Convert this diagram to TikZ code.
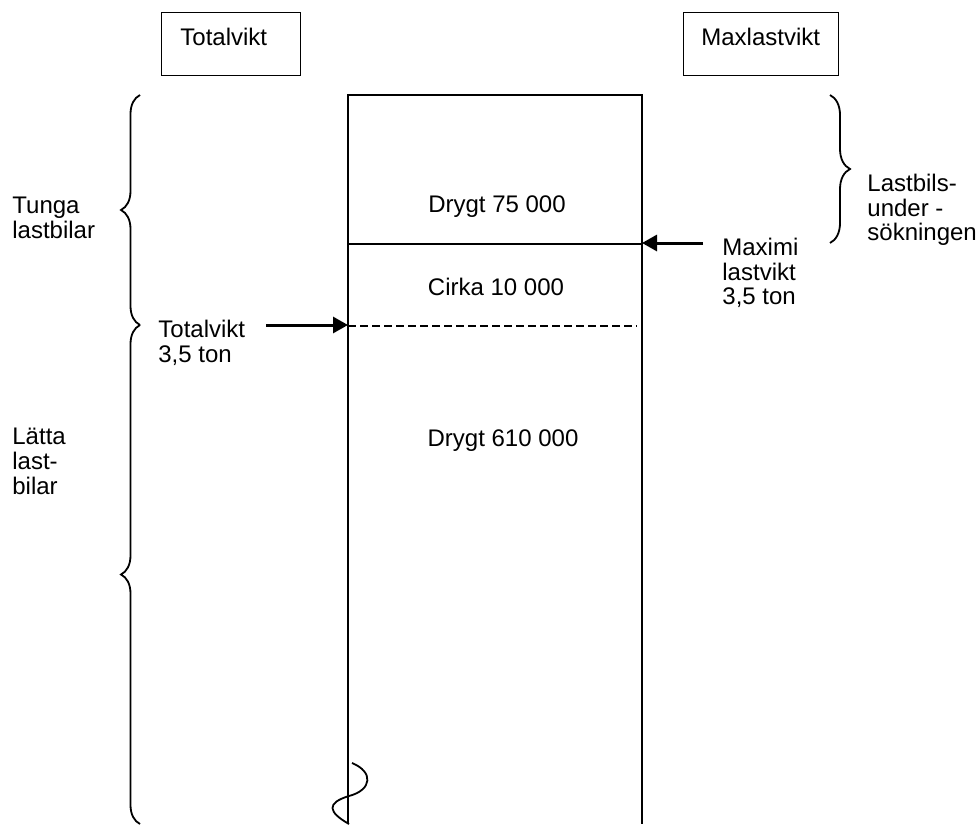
\documentclass[tikz,border=0pt]{standalone}
\usepackage{fontspec}
\setmainfont{Liberation Sans}
\usetikzlibrary{
	arrows.meta,
	positioning,
	decorations.pathreplacing
}
\tikzset{
  % arrow
	cstra/.style      ={-{Triangle[length=7.5pt,width=8pt]}, line width=1.5pt}, % thick arrow
  % line
	cstline/.style    ={line width=0.65pt}, % table lines
	cstdash/.style    ={line width=0.65pt, dash pattern=on 4pt off 2pt}, %虚线
	cstcurve/.style   ={line width=0.9pt}, %wavy
  % brace
	cstbrace/.style   ={line width=0.9pt, decorate, decoration={brace, amplitude=#1}},
  % node
	csttext/.style    ={font=\fontsize{12pt}{12.3pt}\selectfont, inner sep=0pt, align=left},
	csthead/.style    ={draw, line width=0.65pt, minimum width=69.5pt, minimum height=31.5pt, anchor=north west, inner sep=0pt}
}
\begin{document}
\begin{tikzpicture}[x=0.5pt,y=-0.5pt]
	\useasboundingbox (0,0) rectangle (978,824);
	% headers
	\node[csthead] (totbox) at (161,12) {};
	\node[csttext,anchor=north west] (tothead) at (180,28) {Totalvikt};
	\node[csthead,minimum width=77.5pt] (maxbox) at (683,12) {};
	\node[csttext,anchor=north west] (maxhead) at (701,28) {Maxlastvikt};
	% column
	\coordinate (bl) at (348,824);
	\coordinate (tl) at (348,95);
	\coordinate (tr) at (642,95);
	\coordinate (br) at (642,824);
	\draw[cstline] (bl)--(tl)--(tr)--(br);
	\coordinate (ml) at (348,244);
	\coordinate (mr) at (642,244);
	\draw[cstline] (ml)--(mr);
	\coordinate (dl) at (348,326);
	\coordinate (dr) at (637,326);
	\draw[cstdash] (dl)--(dr);
	\node[csttext,anchor=base] (heavy) at (497,212) {Drygt 75 000};
	\node[csttext,anchor=base] (mid) at (496,295) {Cirka 10 000};
	\node[csttext,anchor=base] (light) at (503,446) {Drygt 610 000};
	% wavy end
	\draw[cstcurve] (352,763) .. controls (374,772) and (372,790) .. (349,796)
		.. controls (326,803) and (328,812) .. (349,824);
	% arrows
	\node[csttext,anchor=north west] (totlim) at (158,320) {Totalvikt\\3,5 ton};
	\coordinate (totstart) at (266,325);
	\draw[cstra] (totstart)--(dl |- totstart);
	\node[csttext,anchor=north west] (maxlim) at (722,238) {Maximi\\lastvikt\\3,5 ton};
	\coordinate (maxstart) at (703,243);
	\draw[cstra] (maxstart)--(mr |- maxstart);
	% braces
	\draw[cstbrace=9.5pt] (140,325)--(140,95);
	\draw[cstbrace=9.5pt] (140,824)--(140,325);
	\draw[cstbrace=10pt] (830,95)--(830,243);
	\node[csttext,anchor=north west] (tunga) at (12,197) {Tunga\\lastbilar};
	\node[csttext,anchor=north west] (latta) at (12,428) {Lätta\\last-\\bilar};
	\node[csttext,anchor=north west] (survey) at (867,174) {Lastbils-\\under -\\sökningen};
\end{tikzpicture}
\end{document}
